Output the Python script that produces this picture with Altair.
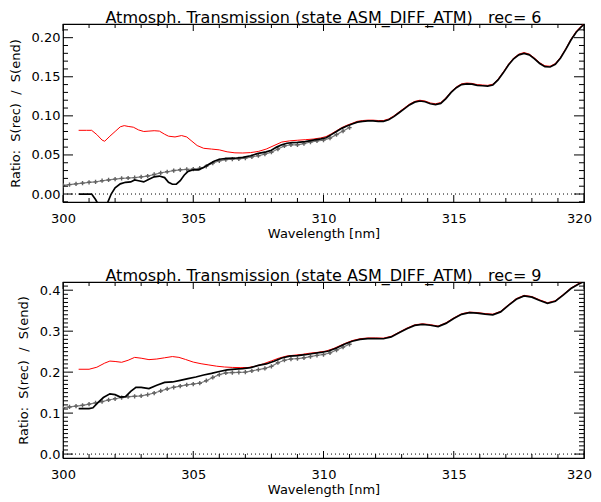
import altair as alt
import pandas as pd

FONT = "DejaVu Sans"
NB = "\u00a0"

# ---------------- Panel 1 (rec = 6) ----------------
top_title = "Atmosph. Transmission (state ASM_DIFF_ATM)" + NB * 3 + "rec=" + NB + "6"
top_black_wl = [300.6, 300.9, 301.1, 301.25, 301.4, 301.55, 301.7, 301.85, 302.0, 302.2, 302.4, 302.6,
                302.75, 302.9, 303.1, 303.3, 303.5, 303.7, 303.9, 304.05, 304.2, 304.35, 304.5, 304.65,
                304.8, 305.0, 305.2, 305.4, 305.6, 305.8, 306.0, 306.3, 306.6, 306.9, 307.2, 307.5,
                307.8, 308.0, 308.2, 308.4, 308.6, 308.8, 309.0, 309.3, 309.6, 309.9, 310.1, 310.3,
                310.5, 310.7, 310.9, 311.1, 311.3, 311.5, 311.7, 311.9, 312.1, 312.3, 312.5, 312.7,
                312.9, 313.1, 313.3, 313.5, 313.7, 313.9, 314.1, 314.3, 314.5, 314.7, 314.9, 315.1,
                315.3, 315.5, 315.7, 315.9, 316.1, 316.3, 316.5, 316.7, 316.9, 317.1, 317.3, 317.5,
                317.7, 317.9, 318.1, 318.3, 318.5, 318.7, 318.9, 319.1, 319.3, 319.5, 319.7, 319.9, 320.0]
top_black_v = [0.000, 0.000, 0.000, -0.007, -0.016, -0.020, -0.012, 0.000, 0.008, 0.013, 0.015, 0.0155,
               0.018, 0.017, 0.0155, 0.019, 0.022, 0.023, 0.021, 0.015, 0.0125, 0.0125, 0.017, 0.024,
               0.029, 0.031, 0.031, 0.034, 0.038, 0.042, 0.0445, 0.0455, 0.0458, 0.047, 0.049, 0.052,
               0.054, 0.056, 0.060, 0.063, 0.065, 0.0658, 0.066, 0.067, 0.069, 0.0705, 0.072, 0.076,
               0.080, 0.084, 0.087, 0.0895, 0.092, 0.093, 0.0935, 0.0935, 0.093, 0.093, 0.095, 0.099,
               0.104, 0.109, 0.114, 0.1175, 0.119, 0.118, 0.1155, 0.1145, 0.116, 0.122, 0.130, 0.136,
               0.140, 0.141, 0.1405, 0.139, 0.1385, 0.138, 0.1395, 0.146, 0.155, 0.165, 0.173, 0.178,
               0.180, 0.178, 0.173, 0.167, 0.163, 0.1625, 0.166, 0.174, 0.185, 0.197, 0.207, 0.214, 0.217]

top_red_wl = [300.6, 300.9, 301.1, 301.3, 301.5, 301.6, 301.8, 302.0, 302.2, 302.35, 302.5, 302.7,
              302.9, 303.1, 303.3, 303.5, 303.7, 303.9, 304.05, 304.3, 304.55, 304.75, 304.95, 305.15,
              305.4, 305.7, 306.0, 306.3, 306.6, 306.9, 307.2, 307.5, 307.8, 308.1, 308.4, 308.7,
              309.0, 309.3, 309.6, 309.9, 310.1, 310.3, 310.5, 310.7, 310.9, 311.1, 311.3, 311.5,
              311.7, 311.9, 312.1, 312.3, 312.5, 312.7, 312.9, 313.1, 313.3, 313.5, 313.7, 313.9,
              314.1, 314.3, 314.5, 314.7, 314.9, 315.1, 315.3, 315.5, 315.7, 315.9, 316.1, 316.3,
              316.5, 316.7, 316.9, 317.1, 317.3, 317.5, 317.7, 317.9, 318.1, 318.3, 318.5, 318.7,
              318.9, 319.1, 319.3, 319.5, 319.7, 319.9, 320.0]
top_red_v = [0.0815, 0.0815, 0.0815, 0.076, 0.069, 0.0675, 0.074, 0.080, 0.086, 0.0875, 0.0865, 0.0855,
             0.082, 0.080, 0.0805, 0.081, 0.0805, 0.0765, 0.074, 0.073, 0.0748, 0.073, 0.0675, 0.062,
             0.0585, 0.0575, 0.0565, 0.054, 0.0527, 0.0525, 0.053, 0.0545, 0.0575, 0.062, 0.0665, 0.068,
             0.0688, 0.0695, 0.0703, 0.0718, 0.0735, 0.077, 0.081, 0.085, 0.088, 0.0905, 0.093, 0.094,
             0.0945, 0.0945, 0.094, 0.094, 0.096, 0.100, 0.105, 0.110, 0.115, 0.1185, 0.120, 0.119,
             0.1165, 0.1155, 0.117, 0.123, 0.131, 0.137, 0.141, 0.142, 0.1415, 0.140, 0.1395, 0.139,
             0.1405, 0.147, 0.156, 0.166, 0.174, 0.179, 0.181, 0.179, 0.174, 0.168, 0.164, 0.1635,
             0.167, 0.175, 0.186, 0.198, 0.208, 0.215, 0.218]

top_grey_wl = [300.0, 300.25, 300.5, 300.75, 301.0, 301.25, 301.5, 301.75, 302.0, 302.25, 302.5, 302.75,
               303.0, 303.25, 303.5, 303.75, 304.0, 304.25, 304.5, 304.75, 305.0, 305.25, 305.5, 305.75,
               306.0, 306.25, 306.5, 306.75, 307.0, 307.25, 307.5, 307.75, 308.0, 308.25, 308.5, 308.75,
               309.0, 309.25, 309.5, 309.75, 310.0, 310.25, 310.5, 310.75, 311.0]
top_grey_v = [0.0110, 0.0120, 0.0130, 0.0140, 0.0150, 0.0155, 0.0170, 0.0180, 0.0190, 0.0200, 0.0205, 0.0210,
              0.0220, 0.0230, 0.0250, 0.0270, 0.0285, 0.0300, 0.0310, 0.0315, 0.0320, 0.0330, 0.0355, 0.0395,
              0.0425, 0.0440, 0.0445, 0.0450, 0.0460, 0.0475, 0.0490, 0.0510, 0.0535, 0.0575, 0.0615, 0.0630,
              0.0630, 0.0645, 0.0665, 0.0680, 0.0690, 0.0715, 0.0760, 0.0805, 0.0850]

# ---------------- Panel 2 (rec = 9) ----------------
bot_title = "Atmosph. Transmission (state ASM_DIFF_ATM)" + NB * 3 + "rec=" + NB + "9"
bot_black_wl = [300.6, 301.0, 301.15, 301.35, 301.55, 301.8, 302.0, 302.2, 302.4, 302.6, 302.8, 303.0,
                303.3, 303.6, 303.9, 304.2, 304.5, 304.8, 305.1, 305.4, 305.7, 306.0, 306.3, 306.6,
                306.9, 307.2, 307.5, 307.8, 308.1, 308.4, 308.7, 309.0, 309.3, 309.6, 309.9, 310.2,
                310.5, 310.8, 311.1, 311.4, 311.7, 312.0, 312.3, 312.6, 312.9, 313.2, 313.5, 313.8,
                314.1, 314.4, 314.7, 315.0, 315.3, 315.6, 315.9, 316.2, 316.5, 316.8, 317.1, 317.4,
                317.7, 318.0, 318.3, 318.6, 318.9, 319.2, 319.5, 319.8, 320.0]
bot_black_v = [0.111, 0.111, 0.113, 0.126, 0.138, 0.147, 0.145, 0.139, 0.140, 0.153, 0.163, 0.163,
               0.160, 0.168, 0.175, 0.176, 0.180, 0.184, 0.188, 0.193, 0.197, 0.2015, 0.2055, 0.2075,
               0.2085, 0.211, 0.2165, 0.220, 0.2265, 0.2345, 0.239, 0.2405, 0.2425, 0.2455, 0.248, 0.2515,
               0.259, 0.268, 0.2755, 0.280, 0.282, 0.282, 0.2815, 0.286, 0.296, 0.306, 0.314, 0.3165,
               0.3145, 0.311, 0.319, 0.331, 0.341, 0.345, 0.344, 0.3415, 0.340, 0.347, 0.363, 0.378,
               0.386, 0.383, 0.375, 0.368, 0.373, 0.388, 0.404, 0.415, 0.421]

bot_red_wl = [300.6, 301.0, 301.3, 301.6, 301.8, 302.0, 302.25, 302.5, 302.75, 303.0, 303.3, 303.6,
              303.9, 304.2, 304.45, 304.7, 305.0, 305.3, 305.6, 305.9, 306.2, 306.5, 306.8, 307.1,
              307.4, 307.7, 308.0, 308.3, 308.6, 308.9, 309.2, 309.5, 309.8, 310.1, 310.4, 310.8,
              311.1, 311.4, 311.7, 312.0, 312.3, 312.6, 312.9, 313.2, 313.5, 313.8, 314.1, 314.4,
              314.7, 315.0, 315.3, 315.6, 315.9, 316.2, 316.5, 316.8, 317.1, 317.4, 317.7, 318.0,
              318.3, 318.6, 318.9, 319.2, 319.5, 319.8, 320.0]
bot_red_v = [0.207, 0.207, 0.212, 0.222, 0.227, 0.226, 0.224, 0.229, 0.236, 0.234, 0.2305, 0.232,
             0.235, 0.238, 0.236, 0.231, 0.2245, 0.2205, 0.2175, 0.2145, 0.2125, 0.2115, 0.211, 0.2113,
             0.2145, 0.2205, 0.2275, 0.2345, 0.2395, 0.2415, 0.2435, 0.2465, 0.2485, 0.2515, 0.258, 0.2695,
             0.277, 0.2815, 0.2835, 0.2835, 0.283, 0.2875, 0.2975, 0.3075, 0.3155, 0.318, 0.316, 0.3125,
             0.3205, 0.3325, 0.3425, 0.3465, 0.3455, 0.343, 0.3415, 0.3485, 0.3645, 0.3795, 0.3875, 0.3845,
             0.3765, 0.3695, 0.3745, 0.3895, 0.4055, 0.4165, 0.4225]

bot_grey_wl = top_grey_wl
bot_grey_v = [0.113, 0.115, 0.117, 0.119, 0.122, 0.125, 0.128, 0.132, 0.135, 0.138, 0.140, 0.141,
              0.142, 0.145, 0.149, 0.154, 0.159, 0.163, 0.166, 0.169, 0.171, 0.173, 0.179, 0.187,
              0.194, 0.198, 0.199, 0.1995, 0.200, 0.203, 0.206, 0.209, 0.214, 0.223, 0.229, 0.232,
              0.233, 0.235, 0.238, 0.241, 0.243, 0.247, 0.254, 0.261, 0.268]

x_title = "Wavelength [nm]"
y_title = "Ratio:" + NB + " S(rec)" + NB + " /" + NB + " S(end)"

# tick positions
x_major = [300, 305, 310, 315, 320]
x_minor = [v for v in range(301, 320) if v % 5 != 0]
top_y_major = [0.0, 0.05, 0.10, 0.15, 0.20]
top_y_minor = [-0.01, 0.01, 0.02, 0.03, 0.04, 0.06, 0.07, 0.08, 0.09, 0.11, 0.12, 0.13, 0.14,
               0.16, 0.17, 0.18, 0.19, 0.21]
bot_y_major = [0.0, 0.1, 0.2, 0.3, 0.4]
bot_y_minor = [round(0.01 * i, 2) for i in range(1, 42) if i % 10 != 0]

W = 521


def panel(title, bwl, bv, rwl, rv, gwl, gv, ydom, ymaj, ymin, yfmt, H):
    xs = alt.Scale(domain=[300, 320], nice=False, zero=False)
    ys = alt.Scale(domain=ydom, nice=False, zero=False)

    ax_bottom = alt.Axis(values=x_major, title=x_title, ticks=False, domain=False, grid=False,
                         labelFont=FONT, labelFontSize=13, labelColor="black", labelPadding=10,
                         labelOffset={"condition": {"test": "datum.value === 320", "value": -5}, "value": 0},
                         titleFont=FONT, titleFontSize=13, titleFontWeight="normal", titleColor="black",
                         titlePadding=2, labelFlush=False)
    ax_left = alt.Axis(values=ymaj, title=y_title, format=yfmt, ticks=False, domain=False, grid=False,
                       labelFont=FONT, labelFontSize=13, labelColor="black", labelPadding=3,
                       titleFont=FONT, titleFontSize=13, titleFontWeight="normal", titleColor="black",
                       titlePadding=9, labelFlush=False)

    def X(f):
        return alt.X(f, scale=xs, axis=ax_bottom, title=x_title)

    def Y(f):
        return alt.Y(f, scale=ys, axis=ax_left, title=y_title)

    gdf = pd.DataFrame({"wl": gwl, "v": gv})
    rdf = pd.DataFrame({"wl": rwl, "v": rv})
    bdf = pd.DataFrame({"wl": bwl, "v": bv})
    zdf = pd.DataFrame({"v": [0.0]})

    grey_line = alt.Chart(gdf).mark_line(color="#7a7a7a", strokeWidth=1.2, clip=True).encode(
        x=X("wl:Q"), y=Y("v:Q"))
    grey_pts = alt.Chart(gdf).mark_point(shape="M-1,0H1M0,-1V1", filled=False, color="#626262",
                                         strokeWidth=1.4, size=18, opacity=1, clip=True).encode(
        x=X("wl:Q"), y=Y("v:Q"))
    zero = alt.Chart(zdf).mark_rule(color="black", strokeWidth=1, strokeDash=[1, 3]).encode(
        y=Y("v:Q"))
    red = alt.Chart(rdf).mark_line(color="#ff0000", strokeWidth=1, clip=True).encode(
        x=X("wl:Q"), y=Y("v:Q"))
    black = alt.Chart(bdf).mark_line(color="black", strokeWidth=1.7, clip=True).encode(
        x=X("wl:Q"), y=Y("v:Q"))

    layers = [grey_line, grey_pts, zero, red, black]
    for vals, ln in ((x_major, 7), (x_minor, 4)):
        df = pd.DataFrame({"wl": vals})
        base = alt.Chart(df).mark_rule(color="black", strokeWidth=1)
        layers.append(base.encode(x=X("wl:Q"), y=alt.value(H), y2=alt.value(H - ln)))
        layers.append(base.encode(x=X("wl:Q"), y=alt.value(0), y2=alt.value(ln)))
    for vals, ln in ((ymaj, 10), (ymin, 5)):
        df = pd.DataFrame({"v": vals})
        base = alt.Chart(df).mark_rule(color="black", strokeWidth=1)
        layers.append(base.encode(y=Y("v:Q"), x=alt.value(0), x2=alt.value(ln)))
        layers.append(base.encode(y=Y("v:Q"), x=alt.value(W), x2=alt.value(W - ln)))

    return alt.layer(*layers).properties(
        width=W, height=H,
        title=alt.TitleParams(title, font=FONT, fontSize=16, fontWeight="normal", color="black",
                              anchor="middle", offset=-2))


p1 = panel(top_title, top_black_wl, top_black_v, top_red_wl, top_red_v, top_grey_wl, top_grey_v,
           [-0.0102, 0.2175], top_y_major, top_y_minor, ".2f", 178)
p2 = panel(bot_title, bot_black_wl, bot_black_v, bot_red_wl, bot_red_v, bot_grey_wl, bot_grey_v,
           [-0.0096, 0.42], bot_y_major, bot_y_minor, ".1f", 176)

chart = alt.vconcat(p1, p2, spacing=25).properties(
    padding={"left": 0, "top": 0, "right": 0, "bottom": 0},
    background="white").configure_view(stroke="black", strokeWidth=1.2)

chart.save("out.html", embed_options={"renderer": "svg", "actions": False})
